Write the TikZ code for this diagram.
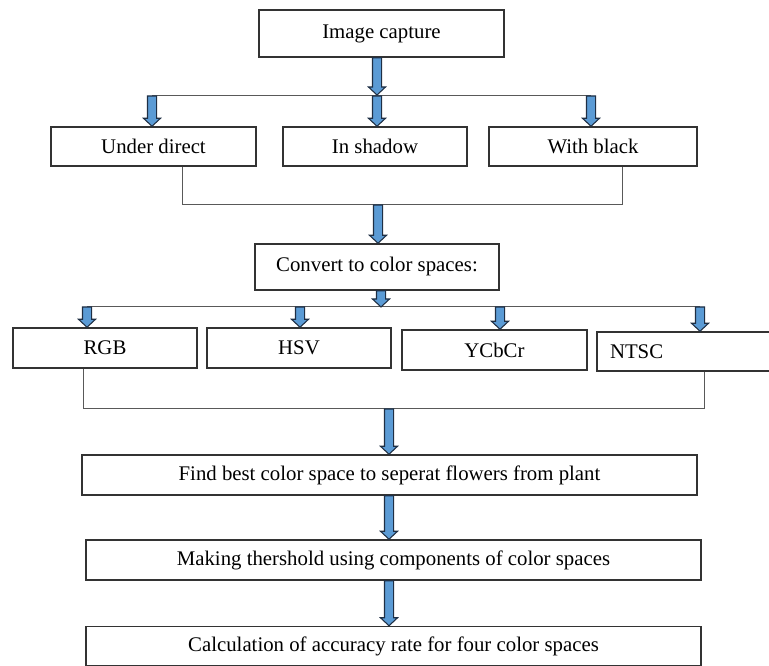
\documentclass[tikz,border=0pt]{standalone}
\usepackage{fontspec}
\setmainfont{Liberation Serif}
\usetikzlibrary{positioning,calc}
\definecolor{arrowblue}{HTML}{5B9BD5}
\definecolor{arrowline}{HTML}{1F2F44}
\tikzset{
        boxnode/.style={align=center,inner sep=0pt,font=\fontsize{15.6}{18}\selectfont},
        % Step boxes
        node_box/.style={boxnode, rectangle, draw=black!80, line width=1.1pt, fill=white},
        % Thin joining lines
        line_link/.style={draw=black!65, line width=0.75pt},
        % Blue block arrows
        arrow_block/.style={draw=arrowline, fill=arrowblue, line width=0.8pt, line join=miter}
}
\newcommand{\blockarrow}[2]{%
    \path[arrow_block] let \p1=(#1), \p2=(#2) in
        (\x1-3.4pt,\y1) -- (\x1-3.4pt,\y2+6pt) -- (\x1-6.4pt,\y2+6pt) -- (\x1,\y2)
        -- (\x1+6.4pt,\y2+6pt) -- (\x1+3.4pt,\y2+6pt) -- (\x1+3.4pt,\y1) -- cycle;}

\begin{document}
\begin{tikzpicture}[x=0.75pt,y=-0.75pt]
    \useasboundingbox (0,0) rectangle (769,666);
    % Boxes
    \node[node_box, minimum width=183.75pt, minimum height=35.25pt] (img) at (381.5,33.5) {Image capture};
    \node[node_box, minimum width=153.75pt, minimum height=29.25pt] (direct) at (153.5,146.5) {Under direct};
    \node[node_box, minimum width=138pt, minimum height=29.25pt] (shadow) at (375,146.5) {In shadow};
    \node[node_box, minimum width=156pt, minimum height=29.25pt] (black) at (593,146.5) {With black};
    \node[node_box, minimum width=183pt, minimum height=34.5pt] (convert) at (377,267) {Convert to color spaces:};
    \node[node_box, minimum width=138pt, minimum height=30pt] (rgb) at (105,348) {RGB};
    \node[node_box, minimum width=138pt, minimum height=30pt] (hsv) at (299,348) {HSV};
    \node[node_box, minimum width=138.75pt, minimum height=30pt] (ycbcr) at (494.5,350) {YCbCr};
    % NTSC box runs past the right edge
    \node[node_box, minimum width=142.5pt, minimum height=29.25pt, text width=123pt, align=left] (ntsc) at (692,351.5) {NTSC};
    \node[node_box, minimum width=461.25pt, minimum height=30pt] (find) at (389.5,475) {Find best color space to seperat flowers from plant};
    \node[node_box, minimum width=461.25pt, minimum height=30pt] (making) at (393.5,560) {Making thershold using components of color spaces};
    \node[node_box, minimum width=461.25pt, minimum height=29.25pt] (calc) at (393.5,646) {Calculation of accuracy rate for four color spaces};

    % Split points and joins
    \coordinate (s_top) at (377,95);
    \coordinate (s_direct) at (152,96);
    \coordinate (s_shadow) at (377,96);
    \coordinate (s_black) at (591,96);
    \coordinate (m_left) at (182,205);
    \coordinate (m_mid) at (378,205);
    \coordinate (m_right) at (622,205);
    \coordinate (s2_top) at (381,307);
    \coordinate (s2_rgb) at (87,307);
    \coordinate (s2_hsv) at (300,307);
    \coordinate (s2_ycbcr) at (500,307);
    \coordinate (s2_ntsc) at (700,307);
    \coordinate (m2_left) at (83,409);
    \coordinate (m2_mid) at (389,409);
    \coordinate (m2_right) at (704,409);

    \draw[line_link] (s_direct) -- (s_black);
    \draw[line_link] (direct.south -| m_left) -- (m_left) -- (m_right) -- (black.south -| m_right);
    \draw[line_link] (s2_rgb) -- (s2_ntsc);
    \draw[line_link] (rgb.south -| m2_left) -- (m2_left) -- (m2_right) -- (ntsc.south -| m2_right);

    % Arrows
    \blockarrow{img.south -| s_top}{s_top}
    \blockarrow{s_direct}{direct.north}
    \blockarrow{s_shadow}{shadow.north}
    \blockarrow{s_black}{black.north}
    \blockarrow{m_mid}{convert.north}
    \blockarrow{convert.south -| s2_top}{s2_top}
    \blockarrow{s2_rgb}{rgb.north}
    \blockarrow{s2_hsv}{hsv.north}
    \blockarrow{s2_ycbcr}{ycbcr.north}
    \blockarrow{s2_ntsc}{ntsc.north}
    \blockarrow{m2_mid}{find.north}
    \blockarrow{find.south -| m2_mid}{making.north}
    \blockarrow{making.south -| m2_mid}{calc.north}
\end{tikzpicture}
\end{document}
